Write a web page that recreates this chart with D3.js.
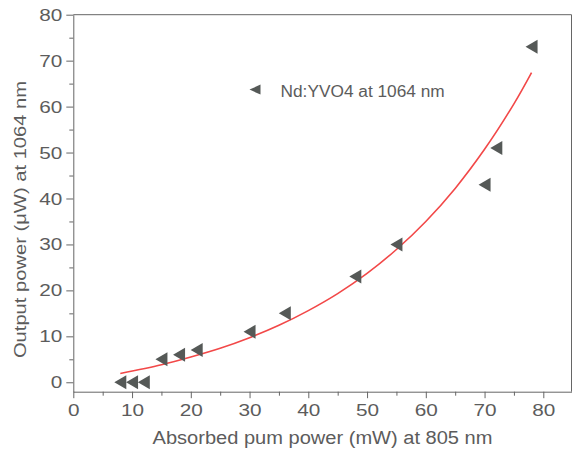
<!DOCTYPE html>
<html>
  <head>
    <meta charset="UTF-8">
    <script src="https://d3js.org/d3.v7.min.js"></script>
    <style>
      body { margin: 0; background: #fff; }
      #svg { display: block; }
      text { font-family: "Liberation Sans", Arial, Helvetica, sans-serif; fill: #5c5c5c; }
      .axis path, .axis line { stroke: #666; }
    </style>
    <title>Output power vs absorbed pump power</title>
  </head>
  <body>
    <svg id="svg" width="572" height="452"></svg>
    <script>
      // measured points (absorbed pump mW, output uW)
      const pumpPower = [8, 10, 12, 15, 18, 21, 30, 36, 48, 55, 70, 72, 78];
      const outputPower = [0, 0, 0, 5, 6, 7, 11, 15, 23, 30, 43, 51, 73];

      // fitted curve
      const fitPump = [8, 15, 20, 25, 30, 35, 40, 45, 50, 55, 60, 65, 70, 75, 78];
      const fitOutput = [1.9, 3.8, 5.5, 7.4, 9.7, 12.4, 15.6, 19.3, 23.7, 28.9, 35.0, 42.2, 50.7, 60.6, 67.4];

      const xTicks = [0, 10, 20, 30, 40, 50, 60, 70, 80];
      const yTicks = [0, 10, 20, 30, 40, 50, 60, 70, 80];
      const seriesName = "Nd:YVO4 at 1064 nm";

      const svg = d3.select("svg#svg");
      const pLeft = 73.3, pRight = 571.5, pTop = 14.7, pBottom = 391.7;

      const x = d3.scaleLinear().domain([0, 84.8]).range([pLeft, pRight]);
      const y = d3.scaleLinear().domain([-2.05, 80]).range([pBottom, pTop]);

      // frame top + right
      svg.append("path")
        .attr("d", `M${pLeft},${pTop}H${pRight}V${pBottom}`)
        .attr("fill", "none").attr("stroke", "#666").attr("stroke-width", 1);

      // minor ticks
      const xMinor = d3.range(5, 85, 10);
      const yMinor = d3.range(5, 80, 10);

      svg.append("g")
        .attr("class", "axis")
        .attr("transform", `translate(0,${pBottom})`)
        .call(d3.axisBottom(x).tickValues(xMinor).tickSize(4).tickFormat("").tickSizeOuter(0))
        .select(".domain").remove();

      svg.append("g")
        .attr("class", "axis")
        .attr("transform", `translate(${pLeft},0)`)
        .call(d3.axisLeft(y).tickValues(yMinor).tickSize(4).tickFormat("").tickSizeOuter(0))
        .select(".domain").remove();

      // major axes
      const xAxis = svg.append("g")
        .attr("class", "axis")
        .attr("transform", `translate(0,${pBottom})`)
        .call(d3.axisBottom(x).tickValues(xTicks).tickSize(6.5).tickSizeOuter(0).tickPadding(6));
      xAxis.selectAll("text")
        .attr("font-size", 17.3)
        .attr("dy", "0.71em")
        .attr("transform", "scale(1.2,1)");

      const yAxis = svg.append("g")
        .attr("class", "axis")
        .attr("transform", `translate(${pLeft},0)`)
        .call(d3.axisLeft(y).tickValues(yTicks).tickSize(7).tickSizeOuter(0).tickPadding(4));
      yAxis.selectAll("text")
        .attr("font-size", 17.3)
        .attr("x", -11 / 1.2)
        .attr("transform", "scale(1.2,1)");

      // fitted curve
      const fitData = fitPump.map((p, i) => ({p: p, o: fitOutput[i]}));
      const line = d3.line()
        .x(d => x(d.p))
        .y(d => y(d.o))
        .curve(d3.curveCatmullRom);
      svg.append("path").datum(fitData)
        .attr("d", line)
        .attr("fill", "none")
        .attr("stroke", "#f24848")
        .attr("stroke-width", 1.6);

      // markers: left-pointing triangles
      const tri = "M-6,0L6,-7L6,7Z";
      const pts = pumpPower.map((p, i) => ({p: p, o: outputPower[i]}));
      svg.append("g").selectAll("path")
        .data(pts)
        .enter()
        .append("path")
        .attr("d", tri)
        .attr("fill", "#555957")
        .attr("transform", d => `translate(${x(d.p)},${y(d.o)})`);

      // legend
      svg.append("path")
        .attr("d", "M-5.5,0L5.5,-5L5.5,5Z")
        .attr("fill", "#555957")
        .attr("transform", "translate(255,89.6)");
      svg.append("text")
        .attr("x", 280.5)
        .attr("y", 96.5)
        .attr("font-size", 17.3)
        .text(seriesName);

      // axis titles
      svg.append("text")
        .attr("text-anchor", "middle")
        .attr("font-size", 17.6)
        .attr("transform", "translate(322.5,444.3) scale(1.14,1)")
        .text("Absorbed pum power (mW) at 805 nm");

      svg.append("text")
        .attr("text-anchor", "middle")
        .attr("font-size", 17.3)
        .attr("transform", "translate(26,219.5) rotate(-90) scale(1.166,1)")
        .text("Output power (\u03bcW) at 1064 nm");
    </script>
  </body>
</html>
